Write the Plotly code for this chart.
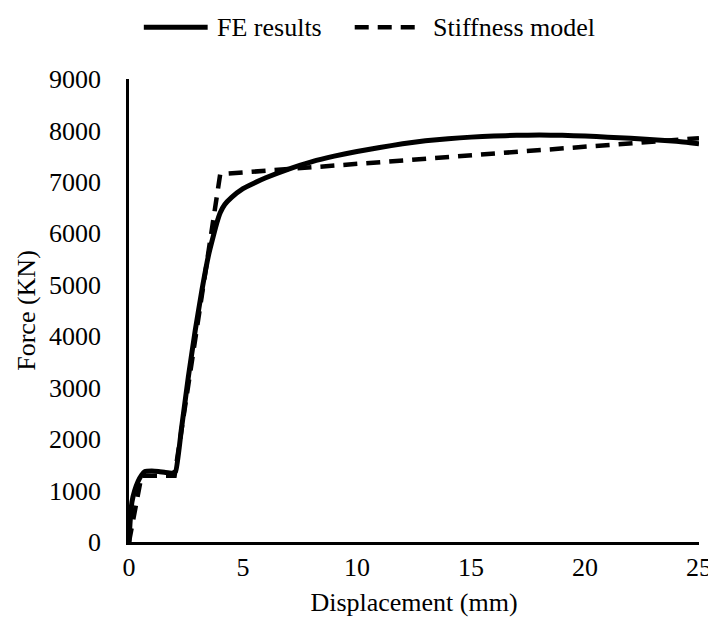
import plotly.graph_objects as go

# FE results (solid)
fe_disp = [0, 0.05, 0.13, 0.25, 0.4, 0.55, 0.7, 1.0, 1.3, 1.6, 1.9, 2.05, 2.3, 2.6, 2.9,
           3.2, 3.5, 3.7, 3.85, 4.0, 4.2, 4.5, 5.0, 5.5, 6.0, 7.0, 8.0, 9.0, 10.0, 11.0,
           12.0, 13.0, 14.0, 15.0, 16.0, 17.0, 18.0, 19.0, 20.0, 21.0, 22.0, 23.0, 24.0, 25.0]
fe_force = [0, 400, 780, 1000, 1180, 1300, 1370, 1380, 1370, 1350, 1340, 1380, 2200, 3200, 4100,
            4900, 5600, 5950, 6200, 6400, 6560, 6700, 6870, 6980, 7080, 7250, 7390, 7500, 7590, 7670,
            7740, 7800, 7840, 7870, 7890, 7905, 7910, 7905, 7890, 7870, 7850, 7820, 7790, 7740]

# Stiffness model (dashed)
sm_disp = [0, 0.55, 2.0, 4.0, 25.0]
sm_force = [0, 1290, 1290, 7150, 7850]

x_ticks = [0, 5, 10, 15, 20, 25]
y_ticks = [0, 1000, 2000, 3000, 4000, 5000, 6000, 7000, 8000, 9000]
legend_names = ["FE results", "Stiffness model"]

FONT = "Liberation Serif, Times New Roman, serif"
FS = 26
SOLID = dict(color="black", width=5)
DASHED = dict(color="black", width=4.5, dash="14px,9px")

fig = go.Figure()
fig.add_trace(go.Scatter(x=fe_disp, y=fe_force, mode="lines", name=legend_names[0],
                         line=dict(SOLID, shape="spline", smoothing=0.4)))
fig.add_trace(go.Scatter(x=sm_disp, y=sm_force, mode="lines", name=legend_names[1],
                         line=DASHED))

# legend drawn above the plot: sample lines + labels (paper coordinates)
LEG_Y = 1.112
fig.add_shape(type="line", xref="paper", yref="paper", x0=0.026, x1=0.138,
              y0=LEG_Y, y1=LEG_Y, line=SOLID)
fig.add_shape(type="line", xref="paper", yref="paper", x0=0.396, x1=0.505,
              y0=LEG_Y, y1=LEG_Y, line=DASHED)
fig.add_annotation(xref="paper", yref="paper", x=0.150, y=LEG_Y, text=legend_names[0],
                   showarrow=False, xanchor="left", yanchor="middle",
                   font=dict(family=FONT, size=FS, color="black"))
fig.add_annotation(xref="paper", yref="paper", x=0.529, y=LEG_Y, text=legend_names[1],
                   showarrow=False, xanchor="left", yanchor="middle",
                   font=dict(family=FONT, size=FS, color="black"))

fig.update_layout(
    width=716, height=627,
    paper_bgcolor="white", plot_bgcolor="white",
    margin=dict(l=121, r=17, t=71, b=93),
    font=dict(family=FONT, size=FS, color="black"),
    showlegend=False,
    xaxis=dict(range=[0, 25], tickvals=x_ticks, showline=True, linecolor="black", linewidth=2.5,
               showgrid=False, zeroline=False, ticks="", ticklabelstandoff=0,
               tickfont=dict(family=FONT, size=FS),
               title=dict(text="Displacement (mm)", font=dict(family=FONT, size=FS), standoff=12)),
    yaxis=dict(range=[0, 9000], tickvals=y_ticks, showline=True, linecolor="black", linewidth=2.5,
               showgrid=False, zeroline=False, ticks="", ticklabelstandoff=20,
               tickfont=dict(family=FONT, size=FS),
               title=dict(text="Force (KN)", font=dict(family=FONT, size=FS), standoff=6)),
)

fig.write_html("out.html")
